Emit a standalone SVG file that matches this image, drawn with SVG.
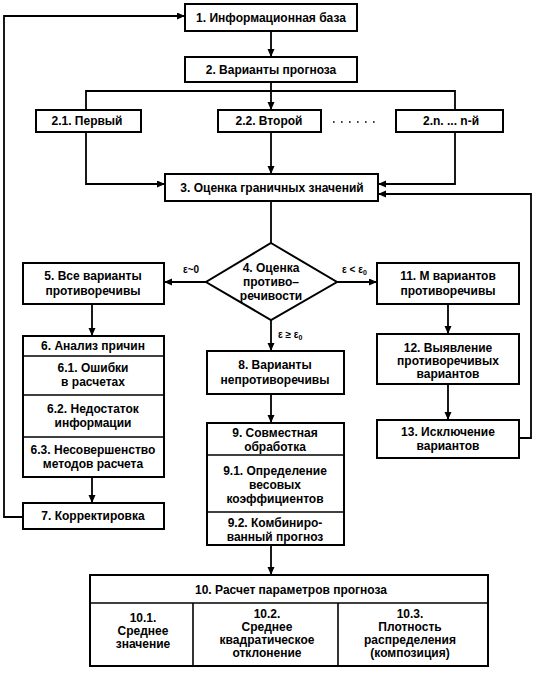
<svg xmlns="http://www.w3.org/2000/svg" width="539" height="674" viewBox="0 0 539 674">
<style>
.b{fill:#fff;stroke:#000;stroke-width:2}
.d{fill:none;stroke:#000;stroke-width:1.6}
.c{fill:none;stroke:#000;stroke-width:1.8}
.a{marker-end:url(#ar)}
text{font-family:"Liberation Sans",Arial,sans-serif;font-size:12px;font-weight:bold;fill:#000;text-anchor:middle}
.e{font-size:10px;text-anchor:start}
.s{font-size:7px}
</style>
<defs>
<marker id="ar" markerUnits="userSpaceOnUse" markerWidth="9" markerHeight="8" refX="8" refY="3.5" orient="auto">
<path d="M0,0 L8,3.5 L0,7 z" fill="#000"/>
</marker>
</defs>
<rect width="539" height="674" fill="#fff"/>
<g id="connectors">
<line class="c a" x1="271" y1="31" x2="271" y2="57"/>
<line class="c a" x1="271" y1="82" x2="271" y2="110"/>
<polyline class="c" points="86,110 86,91 455,91 455,110"/>
<polyline class="c a" points="86,132 86,184 165,184"/>
<line class="c a" x1="271" y1="132" x2="271" y2="174"/>
<polyline class="c a" points="455,132 455,184 378,184"/>
<line x1="333" y1="122" x2="376" y2="122" stroke="#000" stroke-width="1.6" stroke-dasharray="1.6 6.4"/>
<line class="c" x1="271" y1="201" x2="271" y2="243"/>
<line class="c a" x1="206" y1="282" x2="164" y2="282"/>
<line class="c a" x1="337" y1="282" x2="377" y2="282"/>
<line class="c a" x1="271" y1="320" x2="271" y2="351"/>
<line class="c a" x1="92" y1="304" x2="92" y2="336"/>
<line class="c a" x1="92" y1="477" x2="92" y2="503"/>
<polyline class="c a" points="23,517 4,517 4,16 185,16"/>
<line class="c a" x1="448" y1="304" x2="448" y2="334"/>
<line class="c a" x1="448" y1="384" x2="448" y2="420"/>
<polyline class="c a" points="519,438 531,438 531,194 378,194"/>
<line class="c a" x1="271" y1="394" x2="271" y2="423"/>
<line class="c a" x1="271" y1="545" x2="271" y2="575"/>
<text class="e" x="183" y="273">ε~0</text>
<text class="e" x="342" y="273">ε &lt; ε<tspan class="s" dy="2">0</tspan></text>
<text class="e" x="278" y="338">ε ≥ ε<tspan class="s" dy="2">0</tspan></text>
</g>
<g id="n1"><rect class="b" x="185" y="4" width="172" height="27"/><text x="271" y="22">1. Информационная база</text></g>
<g id="n2"><rect class="b" x="185" y="57" width="172" height="25"/><text x="271" y="74">2. Варианты прогноза</text></g>
<g id="n21"><rect class="b" x="36" y="110" width="105" height="22"/><text x="87" y="125">2.1. Первый</text></g>
<g id="n22"><rect class="b" x="218" y="110" width="103" height="22"/><text x="269" y="125">2.2. Второй</text></g>
<g id="n2n"><rect class="b" x="396" y="110" width="107" height="22"/><text x="451" y="125">2.n. ... n-й</text></g>
<g id="n3"><rect class="b" x="165" y="174" width="213" height="27"/><text x="272" y="192">3. Оценка граничных значений</text></g>
<g id="n4"><polygon class="b" points="271,243 337,282 271,320 206,282"/>
<text x="271" y="272">4. Оценка</text><text x="271" y="286">противо–</text><text x="271" y="300">речивости</text></g>
<g id="n5"><rect class="b" x="23" y="263" width="141" height="41"/><text x="93" y="280">5. Все варианты</text><text x="93" y="295">противоречивы</text></g>
<g id="n6"><rect class="b" x="23" y="336" width="141" height="141"/>
<line class="d" x1="23" y1="356" x2="164" y2="356"/><line class="d" x1="23" y1="395" x2="164" y2="395"/><line class="d" x1="23" y1="437" x2="164" y2="437"/>
<text x="93" y="350">6. Анализ причин</text>
<text x="93" y="372">6.1. Ошибки</text><text x="93" y="386">в расчетах</text>
<text x="93" y="413">6.2. Недостаток</text><text x="93" y="427">информации</text>
<text x="93" y="454">6.3. Несовершенство</text><text x="93" y="468">методов расчета</text></g>
<g id="n7"><rect class="b" x="23" y="503" width="141" height="26"/><text x="93" y="520">7. Корректировка</text></g>
<g id="n8"><rect class="b" x="207" y="351" width="137" height="43"/><text x="275" y="369">8. Варианты</text><text x="275" y="384">непротиворечивы</text></g>
<g id="n9"><rect class="b" x="207" y="423" width="137" height="122"/>
<line class="d" x1="207" y1="455" x2="344" y2="455"/><line class="d" x1="207" y1="512" x2="344" y2="512"/>
<text x="275" y="437">9. Совместная</text><text x="275" y="451">обработка</text>
<text x="275" y="475">9.1. Определение</text><text x="275" y="489">весовых</text><text x="275" y="503">коэффициентов</text>
<text x="275" y="527">9.2. Комбиниро-</text><text x="275" y="541">ванный прогноз</text></g>
<g id="n10"><rect class="b" x="90" y="575" width="398" height="91"/>
<line class="d" x1="90" y1="603" x2="488" y2="603"/><line class="d" x1="193" y1="603" x2="193" y2="666"/><line class="d" x1="338" y1="603" x2="338" y2="666"/>
<text x="291" y="594">10. Расчет параметров прогноза</text>
<text x="143" y="622">10.1.</text><text x="143" y="635">Среднее</text><text x="143" y="648">значение</text>
<text x="267" y="618">10.2.</text><text x="267" y="631">Среднее</text><text x="267" y="644">квадратическое</text><text x="267" y="657">отклонение</text>
<text x="410" y="618">10.3.</text><text x="410" y="631">Плотность</text><text x="410" y="644">распределения</text><text x="410" y="657">(композиция)</text></g>
<g id="n11"><rect class="b" x="377" y="263" width="142" height="41"/><text x="448" y="280">11. М вариантов</text><text x="448" y="295">противоречивы</text></g>
<g id="n12"><rect class="b" x="377" y="334" width="142" height="50"/><text x="448" y="352">12. Выявление</text><text x="448" y="365">противоречивых</text><text x="448" y="378">вариантов</text></g>
<g id="n13"><rect class="b" x="377" y="420" width="142" height="38"/><text x="448" y="436">13. Исключение</text><text x="448" y="450">вариантов</text></g>
</svg>
